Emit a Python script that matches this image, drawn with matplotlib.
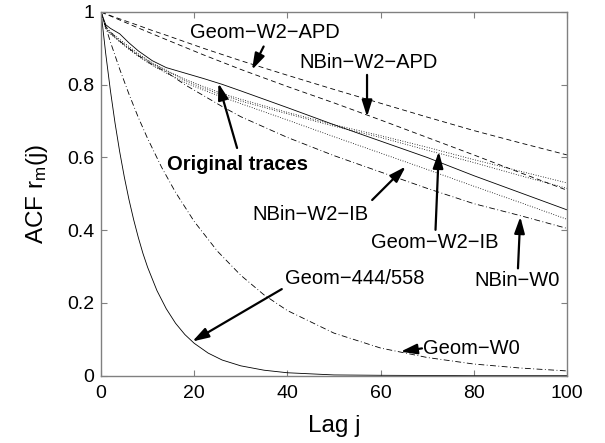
import matplotlib
matplotlib.use('Agg')
import matplotlib.pyplot as plt

# lag grid shared by the slowly decaying curves
lags = [0, 1, 2, 4, 6, 8, 11, 14, 18, 22, 26, 30, 40, 50, 60, 70, 80, 90, 100]

geom_w2_apd = [1, 0.995, 0.99, 0.981, 0.972, 0.963, 0.949, 0.936, 0.918, 0.9,
               0.883, 0.866, 0.826, 0.787, 0.749, 0.711, 0.674, 0.64, 0.607]
nbin_w2_apd = [1, 0.994, 0.989, 0.978, 0.967, 0.956, 0.94, 0.924, 0.903, 0.882,
               0.862, 0.842, 0.795, 0.75, 0.703, 0.655, 0.607, 0.558, 0.51]
original = [1, 0.965, 0.955, 0.94, 0.915, 0.893, 0.866, 0.847, 0.832, 0.817,
            0.801, 0.783, 0.737, 0.69, 0.645, 0.6, 0.55, 0.503, 0.456]
dotted_a = [1, 0.96, 0.945, 0.925, 0.905, 0.885, 0.86, 0.84, 0.815, 0.795,
            0.776, 0.76, 0.724, 0.69, 0.66, 0.628, 0.594, 0.562, 0.53]
dotted_b = [1, 0.955, 0.94, 0.92, 0.9, 0.882, 0.858, 0.838, 0.812, 0.79,
            0.772, 0.755, 0.72, 0.686, 0.655, 0.62, 0.586, 0.55, 0.515]
dotted_c = [1, 0.955, 0.94, 0.918, 0.897, 0.878, 0.853, 0.832, 0.806, 0.785,
            0.766, 0.748, 0.703, 0.657, 0.612, 0.567, 0.521, 0.476, 0.43]
nbin_w0 = [1, 0.96, 0.945, 0.92, 0.9, 0.88, 0.855, 0.835, 0.8, 0.77,
           0.74, 0.712, 0.655, 0.605, 0.56, 0.515, 0.473, 0.44, 0.405]

# fast decaying curves
lags_444 = [0, 1, 2, 3, 4, 5, 6, 7, 8, 9, 10, 12, 14, 16, 18, 20, 23, 26, 30,
            35, 40, 50, 60, 80, 100]
geom_444 = [1, 0.886, 0.785, 0.695, 0.616, 0.546, 0.484, 0.429, 0.38, 0.336,
            0.298, 0.234, 0.184, 0.144, 0.113, 0.089, 0.062, 0.043, 0.027,
            0.015, 0.008, 0.002, 0.001, 0.0, 0.0]
lags_w0 = [0, 2, 4, 6, 8, 10, 13, 16, 20, 25, 30, 35, 40, 50, 60, 70, 80, 90, 100]
geom_w0 = [1, 0.918, 0.843, 0.774, 0.71, 0.652, 0.573, 0.504, 0.424, 0.342,
           0.276, 0.222, 0.179, 0.117, 0.076, 0.05, 0.032, 0.021, 0.013]

plt.rcParams['font.family'] = ['Liberation Sans', 'DejaVu Sans']
plt.rcParams['mathtext.default'] = 'regular'

fig = plt.figure(figsize=(6.05, 4.43), dpi=100)
ax = fig.add_axes([0.167, 0.152, 0.77, 0.821])

lw = 0.6
ax.plot(lags, geom_w2_apd, color='k', lw=lw, ls=(0, (6, 4)))
ax.plot(lags, nbin_w2_apd, color='k', lw=lw, ls=(0, (6, 4)))
ax.plot(lags, original, color='k', lw=lw, ls='-')
ax.plot(lags, dotted_a, color='k', lw=lw, ls=(0, (1, 2)))
ax.plot(lags, dotted_b, color='k', lw=lw, ls=(1, (1, 2)))
ax.plot(lags, dotted_c, color='k', lw=lw, ls=(0, (1, 2)))
ax.plot(lags, nbin_w0, color='k', lw=lw, ls=(0, (7, 3, 1, 3)))
ax.plot(lags_444, geom_444, color='k', lw=lw, ls='-')
ax.plot(lags_w0, geom_w0, color='k', lw=lw, ls=(0, (7, 3, 1, 3)))

ax.set_xlim(0, 100)
ax.set_ylim(0, 1)
ax.set_xticks([0, 20, 40, 60, 80, 100])
ax.set_yticks([0, 0.2, 0.4, 0.6, 0.8, 1])
ax.set_yticklabels(['0', '0.2', '0.4', '0.6', '0.8', '1'])
ax.tick_params(direction='in', top=True, right=True, length=4,
               color='#808080', labelsize=14)
ax.tick_params(axis='x', pad=7)
ax.tick_params(axis='y', pad=5)
for s in ax.spines.values():
    s.set_color('#808080')
    s.set_linewidth(1.0)

ax.set_xlabel('Lag j', fontsize=17.5, labelpad=9)
ax.set_ylabel('ACF r$_m$(j)', fontsize=17.5, labelpad=12)

arrow = dict(arrowstyle='-|>,head_length=0.7,head_width=0.22', color='k',
             lw=1.6, mutation_scale=14, shrinkA=0, shrinkB=0)
fs = 14.5
notes = [
    ('Geom\u2212W2\u2212APD', (35.1, 0.944), (34.9, 0.905), (32.4, 0.841), 'normal'),
    ('NBin\u2212W2\u2212APD', (57.5, 0.862), (57.1, 0.827), (57.1, 0.712), 'normal'),
    ('Original traces', (29.2, 0.58), (29.2, 0.626), (25.2, 0.804), 'bold'),
    ('NBin\u2212W2\u2212IB', (45.0, 0.443), (58.2, 0.483), (65.4, 0.575), 'normal'),
    ('Geom\u2212W2\u2212IB', (71.6, 0.366), (71.8, 0.401), (72.5, 0.616), 'normal'),
    ('NBin\u2212W0', (89.4, 0.263), (89.5, 0.295), (90.0, 0.437), 'normal'),
    ('Geom\u2212444/558', (54.4, 0.267), (38.8, 0.238), (19.6, 0.094), 'normal'),
    ('Geom\u2212W0', (79.4, 0.076), (68.9, 0.075), (64.3, 0.066), 'normal'),
]
for label, txt_xy, tail, head, weight in notes:
    ax.annotate('', xy=head, xytext=tail, arrowprops=arrow)
    ax.text(txt_xy[0], txt_xy[1], label, fontsize=fs, fontweight=weight,
            ha='center', va='center')

fig.savefig('out.png', dpi=100)
